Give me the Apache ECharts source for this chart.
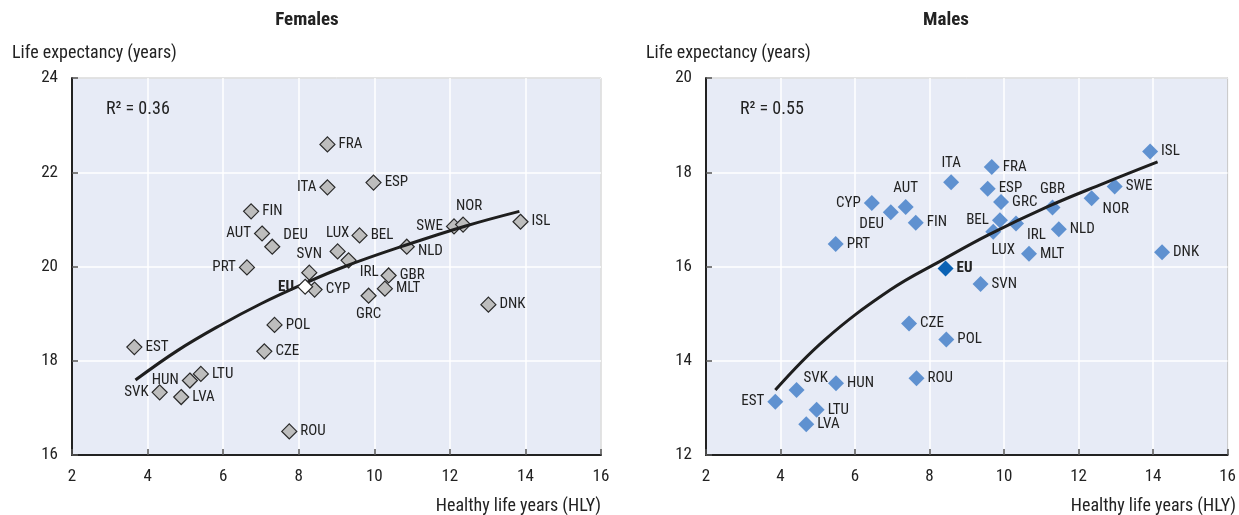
<!DOCTYPE html>
<html>
<head>
<meta charset="utf-8">
<script src="https://cdn.jsdelivr.net/npm/echarts@6/dist/echarts.min.js"></script>
<style>
html, body { margin: 0; padding: 0; background: #fff; }
#chart { width: 1239px; height: 515px; }
</style>
</head>
<body>
<div id="chart"></div>
<script>
// Females
const femCodes = ['FRA', 'ITA', 'ESP', 'FIN', 'AUT', 'DEU', 'LUX', 'BEL', 'IRL', 'NLD', 'SWE', 'NOR', 'ISL', 'PRT', 'SVN', 'CYP', 'GBR', 'MLT', 'GRC', 'DNK', 'POL', 'CZE', 'EST', 'LTU', 'HUN', 'SVK', 'LVA', 'ROU']
const femHly = [8.76, 8.76, 9.98, 6.74, 7.03, 7.30, 9.03, 9.61, 9.32, 10.86, 12.11, 12.35, 13.87, 6.63, 8.28, 8.42, 10.38, 10.28, 9.85, 13.02, 7.36, 7.09, 3.65, 5.41, 5.12, 4.32, 4.89, 7.75]
const femLe = [22.59, 21.68, 21.78, 21.17, 20.70, 20.42, 20.32, 20.66, 20.13, 20.42, 20.85, 20.89, 20.95, 19.98, 19.87, 19.51, 19.81, 19.53, 19.38, 19.19, 18.76, 18.20, 18.29, 17.72, 17.58, 17.33, 17.23, 16.50]
const femEu = [8.17, 19.57]
const femTrendHly = [3.68, 4.8, 5.94, 7.0, 8.07, 9.22, 10.82, 12.42, 13.84]
const femTrendLe = [17.59, 18.22, 18.76, 19.21, 19.61, 20.0, 20.45, 20.86, 21.17]

// Males
const maleCodes = ['ITA', 'FRA', 'ESP', 'CYP', 'AUT', 'DEU', 'FIN', 'GRC', 'BEL', 'LUX', 'PRT', 'SVN', 'IRL', 'GBR', 'NOR', 'SWE', 'ISL', 'NLD', 'MLT', 'DNK', 'CZE', 'POL', 'ROU', 'HUN', 'SVK', 'EST', 'LTU', 'LVA']
const maleHly = [8.58, 9.67, 9.56, 6.45, 7.36, 6.96, 7.63, 9.92, 9.89, 9.71, 5.48, 9.37, 10.32, 11.30, 12.35, 12.97, 13.92, 11.47, 10.67, 14.24, 7.45, 8.45, 7.65, 5.49, 4.43, 3.86, 4.97, 4.69]
const maleLe = [17.79, 18.11, 17.65, 17.35, 17.26, 17.15, 16.93, 17.37, 16.98, 16.74, 16.48, 15.63, 16.91, 17.25, 17.45, 17.70, 18.44, 16.79, 16.27, 16.30, 14.79, 14.45, 13.63, 13.52, 13.38, 13.13, 12.96, 12.65]
const maleEu = [8.43, 15.96]
const maleTrendHly = [3.86, 5.18, 6.94, 8.35, 9.58, 11.17, 12.66, 14.12]
const maleTrendLe = [13.38, 14.44, 15.5, 16.14, 16.67, 17.27, 17.76, 18.22]

// label placement
const femLabelPos = {
  ITA: 'left', AUT: 'left', PRT: 'left', SWE: 'left', SVK: 'left', HUN: 'left',
  LUX: 'top', SVN: 'top', GRC: 'bottom',
  DEU: ['right', [0, -11]], NOR: ['top', [6, 0]], IRL: ['right', [0, 12]], NLD: ['right', [0, 5]]
}
const maleLabelPos = {
  ITA: 'top', AUT: 'top', GBR: 'top', CYP: 'left', BEL: 'left', EST: 'left',
  DEU: ['left', [4, 12]], NOR: ['right', [0, 11]], LUX: ['bottom', [10, 0]],
  IRL: ['right', [0, 12]], SVK: ['right', [-4, -12]]
}

const FONT = "'Liberation Sans Narrow', 'Roboto Condensed', 'DejaVu Sans Condensed', Roboto, sans-serif"
const TXT = '#222'

function pointData (codes, xs, ys, posMap) {
  return codes.map((c, i) => {
    let p = posMap[c] || 'right'
    let off = [0, 0]
    if (Array.isArray(p)) { off = p[1]; p = p[0] }
    return { name: c, value: [xs[i], ys[i]], label: { position: p, offset: off } }
  })
}

function axes (gi, ymin, ymax) {
  return {
    x: {
      gridIndex: gi, type: 'value', min: 2, max: 16, interval: 2,
      axisLine: { show: true, onZero: false, lineStyle: { color: '#222', width: 2 } },
      axisTick: { show: true, inside: true, length: 6, lineStyle: { color: '#555', width: 1.5 } },
      axisLabel: { color: TXT, fontSize: 17, fontFamily: FONT, margin: 13 },
      splitLine: { show: true, lineStyle: { color: '#fff', width: 1.5 } }
    },
    y: {
      gridIndex: gi, type: 'value', min: ymin, max: ymax, interval: 2,
      axisLine: { show: true, onZero: false, lineStyle: { color: '#222', width: 2 } },
      axisTick: { show: true, inside: true, length: 6, lineStyle: { color: '#555', width: 1.5 } },
      axisLabel: { color: TXT, fontSize: 17, fontFamily: FONT, margin: 14 },
      splitLine: { show: true, lineStyle: { color: '#fff', width: 1.5 } }
    }
  }
}

const a0 = axes(0, 16, 24)
const a1 = axes(1, 12, 20)

const labelBase = { show: true, formatter: '{b}', color: TXT, fontSize: 15, fontFamily: FONT, distance: 3 }

function text (x, y, str, opts) {
  return {
    type: 'text', x: x, y: y, z: 100,
    style: Object.assign({ text: str, fill: TXT, font: '18px ' + FONT, textAlign: 'left', textVerticalAlign: 'middle' }, opts || {})
  }
}

const chart = echarts.init(document.getElementById('chart'))
chart.setOption({
  animation: false,
  grid: [
    { left: 72, right: 638, top: 78, bottom: 60, show: true, backgroundColor: '#E7EBF6', borderColor: '#222', borderWidth: 1 },
    { left: 706, right: 3, top: 78, bottom: 60, show: true, backgroundColor: '#E7EBF6', borderColor: '#222', borderWidth: 1 }
  ],
  xAxis: [a0.x, a1.x],
  yAxis: [a0.y, a1.y],
  graphic: [
    text(307, 20, 'Females', { font: 'bold 19px ' + FONT, textAlign: 'center' }),
    text(946, 20, 'Males', { font: 'bold 19px ' + FONT, textAlign: 'center' }),
    text(12, 53, 'Life expectancy (years)'),
    text(646, 53, 'Life expectancy (years)'),
    text(601, 506, 'Healthy life years (HLY)', { textAlign: 'right' }),
    text(1236, 506, 'Healthy life years (HLY)', { textAlign: 'right' }),
    text(106, 109, 'R² = 0.36'),
    text(740, 109, 'R² = 0.55')
  ],
  series: [
    {
      type: 'scatter', xAxisIndex: 0, yAxisIndex: 0, z: 2,
      symbol: 'diamond', symbolSize: 15,
      itemStyle: { color: '#BDBDBD', borderColor: '#2a2a2a', borderWidth: 1.2, opacity: 1 },
      label: labelBase,
      data: pointData(femCodes, femHly, femLe, femLabelPos)
    },
    {
      type: 'line', xAxisIndex: 0, yAxisIndex: 0, z: 3,
      smooth: 0.4, symbol: 'none',
      lineStyle: { color: '#1e1e1e', width: 3 },
      data: femTrendHly.map((x, i) => [x, femTrendLe[i]])
    },
    {
      type: 'scatter', xAxisIndex: 0, yAxisIndex: 0, z: 4,
      symbol: 'diamond', symbolSize: 15,
      itemStyle: { color: '#fff', borderColor: '#2a2a2a', borderWidth: 1.2, opacity: 1 },
      label: Object.assign({}, labelBase, { position: 'left', fontWeight: 'bold' }),
      data: [{ name: 'EU', value: femEu }]
    },
    {
      type: 'scatter', xAxisIndex: 1, yAxisIndex: 1, z: 2,
      symbol: 'diamond', symbolSize: 16,
      itemStyle: { color: '#5F91D0', opacity: 1 },
      label: labelBase,
      data: pointData(maleCodes, maleHly, maleLe, maleLabelPos)
    },
    {
      type: 'line', xAxisIndex: 1, yAxisIndex: 1, z: 3,
      smooth: 0.4, symbol: 'none',
      lineStyle: { color: '#1e1e1e', width: 3 },
      data: maleTrendHly.map((x, i) => [x, maleTrendLe[i]])
    },
    {
      type: 'scatter', xAxisIndex: 1, yAxisIndex: 1, z: 4,
      symbol: 'diamond', symbolSize: 16,
      itemStyle: { color: '#0B62B4', opacity: 1 },
      label: Object.assign({}, labelBase, { position: 'right', fontWeight: 'bold' }),
      data: [{ name: 'EU', value: maleEu }]
    }
  ]
})
</script>
</body>
</html>
